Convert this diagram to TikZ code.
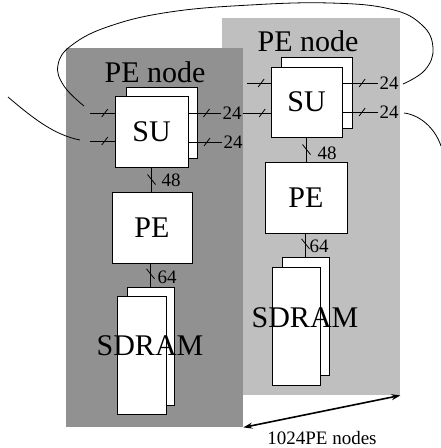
\documentclass[tikz,border=0pt]{standalone}
\usepackage{fontspec}
\setmainfont{Liberation Serif}
\usetikzlibrary{arrows.meta}
\begin{document}
\begin{tikzpicture}[x=1pt,y=-1pt,
  panel/.style={draw=none, inner sep=0, anchor=north west},
  box/.style={draw, fill=white, line width=0.8pt, inner sep=0, anchor=center},
  big/.style={font=\fontsize{30}{32}\selectfont, inner sep=0},
  num/.style={font=\fontsize{19}{21}\selectfont, inner sep=1pt},
  wire/.style={line width=0.8pt},
  ]
\useasboundingbox (0,0) rectangle (441,448);
% panels
\node[panel, fill=black!25, minimum width=178pt, minimum height=377pt] (panR) at (222,18) {};
\node[panel, fill=black!43, minimum width=177pt, minimum height=379pt] (panL) at (66,48) {};
\node[big] (tL) at (155,72) {PE node};
\node[big] (tR) at (308,41) {PE node};
% left column
\node[box, minimum width=71pt, minimum height=71pt] (suLb) at (161.5,122.5) {};
\node[box, minimum width=73pt, minimum height=71pt, big] (suLf) at (151.5,131.5) {SU};
\node[box, minimum width=80pt, minimum height=71pt, big] (peL) at (152,227.5) {PE};
\node[box, minimum width=47pt, minimum height=118pt] (sdLb) at (150.5,346) {};
\node[box, minimum width=49pt, minimum height=118pt] (sdLf) at (141.5,355) {};
\node[big] (sdLt) at (150,346) {SDRAM};
% right column
\node[box, minimum width=71pt, minimum height=71pt] (suRb) at (316.5,92.5) {};
\node[box, minimum width=71pt, minimum height=70pt, big] (suRf) at (306.5,102) {SU};
\node[box, minimum width=82pt, minimum height=71pt, big] (peR) at (306,197.5) {PE};
\node[box, minimum width=47pt, minimum height=118pt] (sdRb) at (305.5,316) {};
\node[box, minimum width=48pt, minimum height=118pt] (sdRf) at (296,326) {};
\node[big] (sdRt) at (305,318) {SDRAM};
% labels
\node[num] (l1) at (232,113) {24};
\node[num] (l2) at (233,142) {24};
\node[num] (l3) at (389,83) {24};
\node[num] (l4) at (389,112) {24};
\node[num] (n48L) at (171,180) {48};
\node[num] (n64L) at (167,277) {64};
\node[num] (n48R) at (327,153) {48};
\node[num] (n64R) at (319,246) {64};
\coordinate (inL1) at (90,113);
\coordinate (inL2) at (90,141);
\coordinate (inR1) at (247,83);
% wires with bus marks
\draw[wire] (suLf.east |- l1) -- coordinate[pos=0.55](m1) (l1.west);
\draw[wire] (m1) ++(-3,4) -- ++(6,-8);
\draw[wire] (l1.east) -- coordinate[pos=0.7](m2) (suRf.west |- l1);
\draw[wire] (m2) ++(-3,4) -- ++(6,-8);
\draw[wire] (suLf.east |- l2) -- coordinate[pos=0.55](m3) (l2.west);
\draw[wire] (m3) ++(-3,4) -- ++(6,-8);
\draw[wire] (suRf.east |- l3) -- coordinate[pos=0.55](m4) (l3.west);
\draw[wire] (m4) ++(-3,4) -- ++(6,-8);
\draw[wire] (suRf.east |- l4) -- coordinate[pos=0.55](m5) (l4.west);
\draw[wire] (m5) ++(-3,4) -- ++(6,-8);
\draw[wire] (inR1) -- coordinate[pos=0.6](m6) (suRf.west |- inR1);
\draw[wire] (m6) ++(-3,4) -- ++(6,-8);
\draw[wire] (inL1) -- coordinate[pos=0.6](m7) (suLf.west |- inL1);
\draw[wire] (m7) ++(-3,4) -- ++(6,-8);
\draw[wire] (inL2) -- coordinate[pos=0.6](m8) (suLf.west |- inL2);
\draw[wire] (m8) ++(-3,4) -- ++(6,-8);
% vertical buses
\draw[wire] (suLf.south) -- coordinate[pos=0.5](v1) (suLf.south |- peL.north);
\draw[wire] (v1) ++(-4,-5) -- ++(8,10);
\draw[wire] (sdLb.north |- peL.south) -- coordinate[pos=0.45](v2) (sdLb.north);
\draw[wire] (v2) ++(-4,-5) -- ++(8,10);
\draw[wire] (suRf.south) -- coordinate[pos=0.5](v3) (suRf.south |- peR.north);
\draw[wire] (v3) ++(-4,-5) -- ++(8,10);
\draw[wire] (sdRb.north |- peR.south) -- coordinate[pos=0.45](v4) (sdRb.north);
\draw[wire] (v4) ++(-4,-5) -- ++(8,10);
% ring connection
\draw[wire] plot[smooth, tension=0.7] coordinates {(403,84) (425,70) (433,48) (422,25) (390,9) (330,3) (250,5) (170,12) (110,26) (72,45) (58,65) (64,86) (84,106)};
\draw[wire] (8,97) .. controls (35,120) and (55,135) .. (80,140);
\draw[wire] (404,113) .. controls (420,115) and (435,128) .. (441,146);
% width arrow
\draw[line width=1.6pt, {Stealth[length=9pt,width=6pt]}-{Stealth[length=9pt,width=6pt]}] (panL.south east) -- (panR.south east);
\node[num] (cap) at (322,438) {1024PE nodes};
\end{tikzpicture}
\end{document}
